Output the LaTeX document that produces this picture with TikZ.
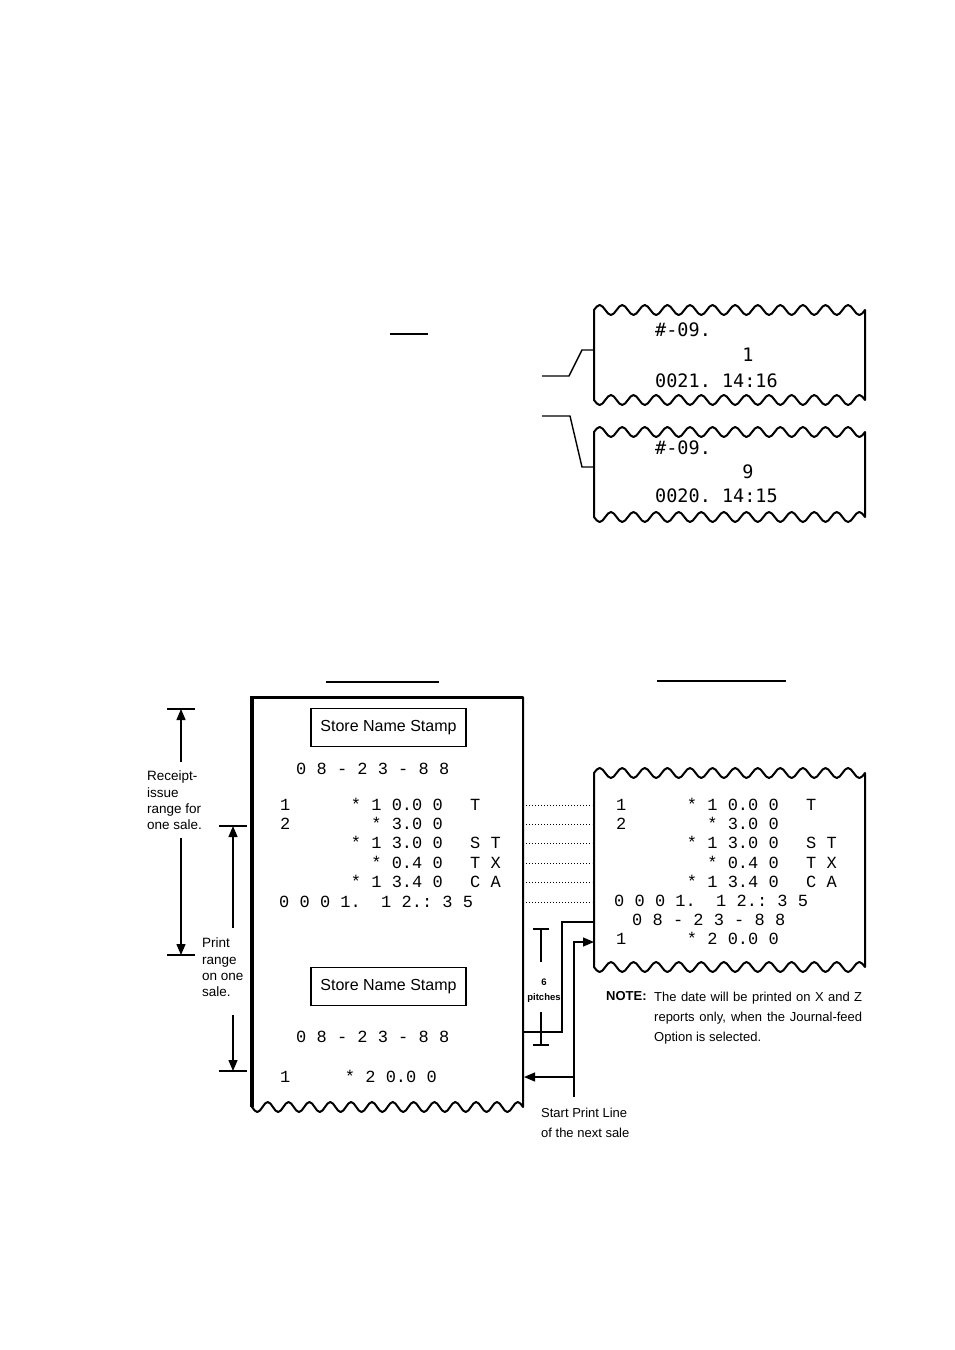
\documentclass[tikz,border=0pt]{standalone}
\usepackage{fontspec}
\setmainfont{Liberation Sans}
\newfontfamily\slipfont{Liberation Mono}
\newfontfamily\logfont{DejaVu Sans Mono}
\usetikzlibrary{arrows.meta,positioning,calc}

\tikzset{
  slipline/.style={line width=2pt, line join=round},
  rcpt/.style={font=\slipfont\frenchspacing\fontsize{17}{20}\selectfont, inner sep=0pt, text height=10pt, text depth=0pt},
  logtext/.style={font=\logfont\frenchspacing\fontsize{18.5}{22}\selectfont, inner sep=0pt, text height=13pt, text depth=0pt},
  stampbox/.style={draw, line width=1.5pt, minimum width=155pt, minimum height=38pt, inner sep=0pt, font=\fontsize{16}{19}\selectfont},
  annot/.style={font=\fontsize{13.5}{16.3}\selectfont, align=left, inner sep=0pt},
  dimbar/.style={line width=1.3pt},
  dimarrow/.style={line width=1.3pt, -{Triangle[length=11pt,width=9pt]}},
  dotlink/.style={line width=0.9pt, dash pattern=on 1.2pt off 1.8pt},
  leadline/.style={line width=1.4pt},
}

% slip with torn (wavy) top and bottom: left x, right x, top y, bottom y, waves
\newcommand{\wavyslip}[5]{%
  \pgfmathsetmacro{\wq}{(#2-#1)/(4*#5)}
  \draw[slipline] (#1,#3)
    \foreach \k in {1,...,#5} { sin ++(\wq,-5) cos ++(\wq,5) sin ++(\wq,5) cos ++(\wq,-5) }
    -- (#2,#4)
    \foreach \k in {1,...,#5} { sin ++(-\wq,-5) cos ++(-\wq,5) sin ++(-\wq,5) cos ++(-\wq,-5) }
    -- cycle;
}

\begin{document}
\begin{tikzpicture}[x=1pt, y=-1pt]
  \path[fill=white, use as bounding box] (0,0) rectangle (954,1350);

  % --- top: two journal slips
  \wavyslip{594}{865}{310}{400}{12}
  \wavyslip{594}{865}{432}{517}{12}
  \node[logtext, anchor=west] (s1id) at (655,330) {\#-09.};
  \node[logtext] (s1qty) at (748,355) {1};
  \node[logtext, anchor=west] (s1time) at (655,381) {0021. 14:16};
  \node[logtext, anchor=west] (s2id) at (655,448) {\#-09.};
  \node[logtext] (s2qty) at (748,472) {9};
  \node[logtext, anchor=west] (s2time) at (655,496) {0020. 14:15};

  \coordinate (s1port) at (594,350);
  \coordinate (s2port) at (594,467);
  \coordinate (s1lead) at (542,376);
  \coordinate (s2lead) at (542,416);
  \draw[leadline] (s1lead) -- ++(27,0) -- ++(13,-26) -- (s1port);
  \draw[leadline] (s2lead) -- ++(28,0) -- ++(12,51) -- (s2port);
  \draw[leadline] (390,334) -- (428,334);

  % --- headings (blank, underlined)
  \draw[leadline] (326,682) -- (439,682);
  \draw[leadline] (657,681) -- (786,681);

  % --- receipt
  \draw[slipline] (252,697) -- (523,697) -- (523,1107)
    \foreach \k in {1,...,13} { sin ++(-5.21,-5) cos ++(-5.21,5) sin ++(-5.21,5) cos ++(-5.21,-5) }
    -- cycle;
  \draw[line width=3.5pt] (252,696) -- (252,1107);
  \draw[line width=3pt] (251,697) -- (523,697);

  \node[stampbox] (stamp1) at (388.5,727.5) {Store Name Stamp};
  \node[rcpt, anchor=west] (rdate1) at (296,769) {0 8 - 2 3 - 8 8};

  % --- journal
  \wavyslip{594}{865}{773}{967}{12}

  \foreach \qty/\amt/\tag [count=\i from 0] in {1/{* 1 0.0 0}/T, 2/{* 3.0 0}/{}, {}/{* 1 3.0 0}/{S T}, {}/{* 0.4 0}/{T X}, {}/{* 1 3.4 0}/{C A}} {
    \pgfmathsetmacro{\yi}{805+19.4*\i}
    \node[rcpt, anchor=west] (lq\i) at (280,\yi) {\qty};
    \node[rcpt, anchor=east] (la\i) at (443,\yi) {\amt};
    \node[rcpt, anchor=west] (lt\i) at (470,\yi) {\tag};
    \node[rcpt, anchor=west] (jq\i) at (616,\yi) {\qty};
    \node[rcpt, anchor=east] (ja\i) at (779,\yi) {\amt};
    \node[rcpt, anchor=west] (jt\i) at (806,\yi) {\tag};
  }
  \node[rcpt, anchor=west] (lclose) at (279,902) {0 0 0 1.~ 1 2.: 3 5};
  \node[rcpt, anchor=west] (jclose) at (614,901) {0 0 0 1.~ 1 2.: 3 5};
  \node[rcpt, anchor=west] (jdate) at (632,920) {0 8 - 2 3 - 8 8};
  \node[rcpt, anchor=west] (jq6) at (616,939) {1};
  \node[rcpt, anchor=east] (ja6) at (779,939) {* 2 0.0 0};

  \foreach \i in {0,...,5} {
    \pgfmathsetmacro{\yi}{805+19.4*\i}
    \coordinate (lr\i) at (526,\yi);
    \coordinate (jl\i) at (592,\yi);
    \draw[dotlink] (lr\i) -- (jl\i);
  }

  % next sale on the receipt
  \node[stampbox] (stamp2) at (388.5,986.5) {Store Name Stamp};
  \node[rcpt, anchor=west] (rdate2) at (296,1037) {0 8 - 2 3 - 8 8};
  \node[rcpt, anchor=west] (lq6) at (280,1077) {1};
  \node[rcpt, anchor=east] (la6) at (437,1077) {* 2 0.0 0};

  % --- cut line and start print line
  \coordinate (cutL) at (523,1032);
  \coordinate (cutJ) at (594,922);
  \draw[leadline] (cutL) -- (562,1032) |- (cutJ);

  \coordinate (startfoot) at (574,1097);
  \coordinate (startJ) at (594,942);
  \coordinate (startL) at (524,1077);
  \draw[dimarrow] (startfoot) |- (startJ);
  \draw[dimarrow] (startfoot |- startL) -- (startL);
  \node[annot, font=\fontsize{13}{20}\selectfont, anchor=north west] (startnote) at (541,1108) {Start Print Line\\of the next sale};

  % 6 pitches
  \coordinate (pitchtop) at (541,929);
  \coordinate (pitchbot) at (541,1045);
  \node[font=\bfseries\fontsize{9.5}{15}\selectfont, align=center, inner sep=0pt] (pitches) at (544,991) {6\\pitches};
  \draw[dimbar] ($(pitchtop)+(-8,0)$) -- ($(pitchtop)+(8,0)$);
  \draw[dimbar] (pitchtop) -- ++(0,33);
  \draw[dimbar] ($(pitchbot)+(-8,0)$) -- ($(pitchbot)+(8,0)$);
  \draw[dimbar] (pitchbot) -- ++(0,-33);

  % --- note
  \node[font=\bfseries\fontsize{13}{20}\selectfont, anchor=north west, inner sep=0pt] (notehead) at (606,991.5) {NOTE:};
  \node[font=\fontsize{13}{20}\selectfont, anchor=north west, inner sep=0pt, text width=208pt, align=justify] (notebody) at (654,991.5) {The date will be printed on X and Z reports only, when the Journal-feed Option is selected.};

  % --- ranges on the left
  \coordinate (issuetop) at (181,709);
  \coordinate (issuebot) at (181,955);
  \node[annot, anchor=north west] (issue) at (147,771) {Receipt-\\issue\\range for\\one sale.};
  \draw[dimbar] ($(issuetop)+(-14,0)$) -- ($(issuetop)+(14,0)$);
  \draw[dimbar] ($(issuebot)+(-14,0)$) -- ($(issuebot)+(14,0)$);
  \draw[dimarrow] ($(issue.north -| issuetop)+(0,-9)$) -- (issuetop);
  \draw[dimarrow] ($(issue.south -| issuebot)+(0,8)$) -- (issuebot);

  \coordinate (printtop) at (233,826);
  \coordinate (printbot) at (233,1071);
  \node[annot, anchor=north west] (printr) at (202,938) {Print\\range\\on one\\sale.};
  \draw[dimbar] ($(printtop)+(-14,0)$) -- ($(printtop)+(14,0)$);
  \draw[dimbar] ($(printbot)+(-14,0)$) -- ($(printbot)+(14,0)$);
  \draw[dimarrow] ($(printr.north -| printtop)+(0,-10)$) -- (printtop);
  \draw[dimarrow] ($(printr.south -| printbot)+(0,18)$) -- (printbot);
\end{tikzpicture}
\end{document}
